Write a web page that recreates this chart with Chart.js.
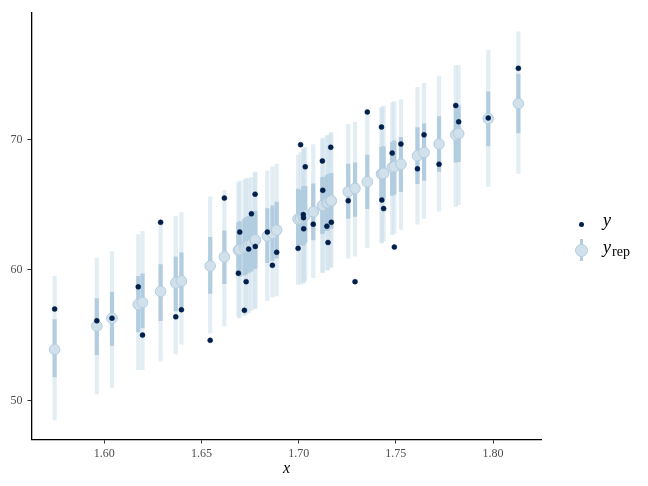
<!DOCTYPE html>
<html>
<head>
<meta charset="utf-8">
<script src="https://cdn.jsdelivr.net/npm/chart.js@4/dist/chart.umd.min.js"></script>
<style>
  body { margin: 0; background: #fff; }
  #wrap { position: relative; width: 648px; height: 486px; }
  #legend { position: absolute; left: 570px; top: 208px; font-family: "Liberation Serif", "DejaVu Serif", serif; font-size: 18px; color: #000; }
  .key { position: absolute; }
  .lab { position: absolute; left: 33px; white-space: nowrap; font-style: italic; }
  .lab sub { font-style: normal; font-size: 14px; vertical-align: -3px; margin-left: 1px; }
</style>
</head>
<body>
<div id="wrap">
  <canvas id="c" width="648" height="486"></canvas>
  <div id="legend">
    <span class="key" style="left:9px;top:13.5px;width:5px;height:5px;border-radius:50%;background:#011f4b;"></span>
    <span class="lab" style="top:2px;">y</span>
    <span class="key" style="left:10px;top:31px;width:3px;height:22px;background:#b3cde0;"></span>
    <span class="key" style="left:5px;top:35.5px;width:11px;height:11px;border-radius:50%;background:#d1e1ec;border:1px solid #b3cde0;"></span>
    <span class="lab" style="top:29px;">y<sub>rep</sub></span>
  </div>
</div>
<script>
// x values of the observations
const xVals = [1.5745, 1.5962, 1.6040, 1.6175, 1.6197, 1.6290, 1.6368, 1.6397, 1.6545, 1.6618,
  1.6690, 1.6697, 1.6721, 1.6730, 1.6743, 1.6757, 1.6776, 1.6777, 1.6839, 1.6865,
  1.6887, 1.6997, 1.7010, 1.7024, 1.7025, 1.7026, 1.7034, 1.7075, 1.7122, 1.7124,
  1.7145, 1.7151, 1.7165, 1.7168, 1.7255, 1.7290, 1.7353, 1.7426, 1.7428, 1.7437,
  1.7481, 1.7492, 1.7526, 1.7611, 1.7645, 1.7722, 1.7808, 1.7823, 1.7975, 1.8130];
// observed y
const yObs = [57.0, 56.1, 56.3, 58.7, 55.0, 63.65, 56.4, 56.95, 54.6, 65.5,
  59.75, 62.9, 56.9, 59.1, 61.6, 64.3, 65.8, 61.8, 62.9, 60.35,
  61.35, 61.65, 69.6, 64.25, 64.0, 63.15, 67.9, 63.5, 68.35, 66.1,
  63.35, 62.1, 69.4, 63.65, 65.3, 59.1, 72.1, 70.95, 65.35, 64.7,
  68.95, 61.75, 69.65, 67.75, 70.35, 68.1, 72.6, 71.35, 71.65, 75.45];
// y_rep medians
const yrepMed = [53.9, 55.7, 56.3, 57.35, 57.5, 58.35, 59.0, 59.15, 60.3, 61.0,
  61.5, 61.55, 61.7, 61.8, 61.9, 62.0, 62.25, 62.3, 62.6, 62.8,
  63.05, 63.9, 63.95, 64.05, 64.1, 64.1, 64.2, 64.45, 64.9, 64.95,
  65.1, 65.15, 65.25, 65.3, 66.0, 66.25, 66.75, 67.35, 67.35, 67.4,
  67.85, 67.9, 68.1, 68.75, 69.0, 69.65, 70.35, 70.45, 71.6, 72.75];
// 50% intervals
const lo50 = [51.8, 53.5, 54.2, 55.25, 55.55, 56.1, 56.85, 57.15, 58.2, 58.95,
  59.6, 59.5, 59.6, 59.7, 59.8, 59.9, 60.1, 60.2, 60.55, 60.7,
  60.9, 61.9, 61.9, 62.0, 61.9, 62.0, 62.1, 62.3, 62.8, 62.8,
  63.0, 63.1, 63.2, 63.2, 63.95, 64.1, 64.7, 65.4, 65.5, 65.5,
  65.7, 65.8, 66.0, 66.6, 66.85, 67.55, 68.25, 68.3, 69.5, 70.5];
const hi50 = [56.2, 57.8, 58.3, 59.5, 59.7, 60.4, 61.0, 61.3, 62.5, 63.0,
  63.6, 63.7, 63.9, 64.0, 64.1, 64.2, 64.4, 64.5, 64.7, 64.9,
  65.2, 66.2, 66.1, 66.3, 66.3, 66.4, 66.4, 66.6, 67.0, 67.1,
  67.2, 67.3, 67.4, 67.4, 68.1, 68.2, 68.8, 69.4, 69.4, 69.45,
  69.8, 69.9, 70.15, 70.9, 71.2, 71.75, 72.55, 72.6, 73.65, 75.0];
// 90% intervals
const lo90 = [48.5, 50.5, 51.0, 52.35, 52.35, 53.0, 53.55, 54.3, 55.15, 55.7,
  56.4, 56.3, 56.5, 56.6, 56.7, 56.9, 57.0, 57.1, 57.65, 57.9,
  58.0, 58.9, 58.9, 59.0, 59.0, 59.1, 59.2, 59.4, 59.8, 59.8,
  60.0, 60.0, 60.2, 60.2, 60.9, 61.05, 61.7, 62.05, 62.1, 62.2,
  62.7, 62.8, 63.1, 63.5, 63.95, 64.5, 64.85, 65.0, 66.4, 67.4];
const hi90 = [59.5, 60.9, 61.4, 62.7, 62.95, 63.6, 64.1, 64.4, 65.6, 66.1,
  66.7, 66.8, 66.9, 67.0, 67.0, 67.1, 67.4, 67.5, 67.6, 67.9,
  68.1, 68.8, 69.0, 69.2, 69.3, 69.3, 69.4, 69.6, 70.0, 70.1,
  70.3, 70.3, 70.5, 70.5, 71.15, 71.3, 71.85, 72.4, 72.45, 72.55,
  72.8, 72.9, 73.05, 74.0, 74.3, 74.85, 75.65, 75.65, 76.85, 78.25];

const xTicks = [1.60, 1.65, 1.70, 1.75, 1.80];
const yTicks = [50, 60, 70];

const serif = '"Liberation Serif", "DejaVu Serif", serif';

new Chart(document.getElementById('c'), {
  type: 'bar',
  data: {
    datasets: [
      {
        type: 'scatter',
        label: 'y',
        data: xVals.map((x, i) => ({ x: x, y: yObs[i] })),
        backgroundColor: '#011f4b',
        borderColor: '#011f4b',
        borderWidth: 0.5,
        pointRadius: 2.5,
        order: 0
      },
      {
        type: 'scatter',
        label: 'y_rep',
        data: xVals.map((x, i) => ({ x: x, y: yrepMed[i] })),
        backgroundColor: '#d1e1ec',
        borderColor: '#b3cde0',
        borderWidth: 1,
        pointRadius: 5.3,
        order: 1
      },
      {
        label: '50%',
        data: xVals.map((x, i) => ({ x: x, y: [lo50[i], hi50[i]] })),
        backgroundColor: '#b3cde0',
        borderWidth: 0,
        barThickness: 3.5,
        grouped: false,
        order: 2
      },
      {
        label: '90%',
        data: xVals.map((x, i) => ({ x: x, y: [lo90[i], hi90[i]] })),
        backgroundColor: 'rgba(209,225,236,0.6)',
        borderWidth: 0,
        barThickness: 3.5,
        grouped: false,
        order: 3
      }
    ]
  },
  options: {
    responsive: false,
    animation: false,
    events: [],
    layout: { padding: { left: 0, right: 106.5, top: 8.5, bottom: 0 } },
    plugins: { legend: { display: false }, tooltip: { enabled: false } },
    scales: {
      x: {
        type: 'linear',
        min: 1.5626,
        max: 1.8249,
        offset: false,
        afterFit: (s) => { s.height = 46.5; },
        afterBuildTicks: (s) => { s.ticks = xTicks.map(v => ({ value: v })); },
        grid: { display: true, offset: false, drawOnChartArea: false, drawTicks: true, tickLength: 4, color: '#333', lineWidth: 1 },
        border: { display: true, color: '#000', width: 1.3 },
        ticks: {
          color: '#4d4d4d',
          font: { family: serif, size: 12 },
          padding: 3,
          maxRotation: 0,
          callback: (v) => Number(v).toFixed(2)
        },
        title: {
          display: true,
          text: 'x',
          color: '#000',
          font: { family: serif, size: 16, style: 'italic' },
          padding: { top: 0, bottom: 8 }
        }
      },
      y: {
        min: 47.0,
        max: 79.75,
        afterFit: (s) => { s.width = 31.5; },
        afterBuildTicks: (s) => { s.ticks = yTicks.map(v => ({ value: v })); },
        grid: { display: true, drawOnChartArea: false, drawTicks: true, tickLength: 4, color: '#333', lineWidth: 1 },
        border: { display: true, color: '#000', width: 1.3 },
        ticks: {
          color: '#4d4d4d',
          font: { family: serif, size: 12 },
          padding: 5
        }
      }
    }
  }
});
</script>
</body>
</html>
